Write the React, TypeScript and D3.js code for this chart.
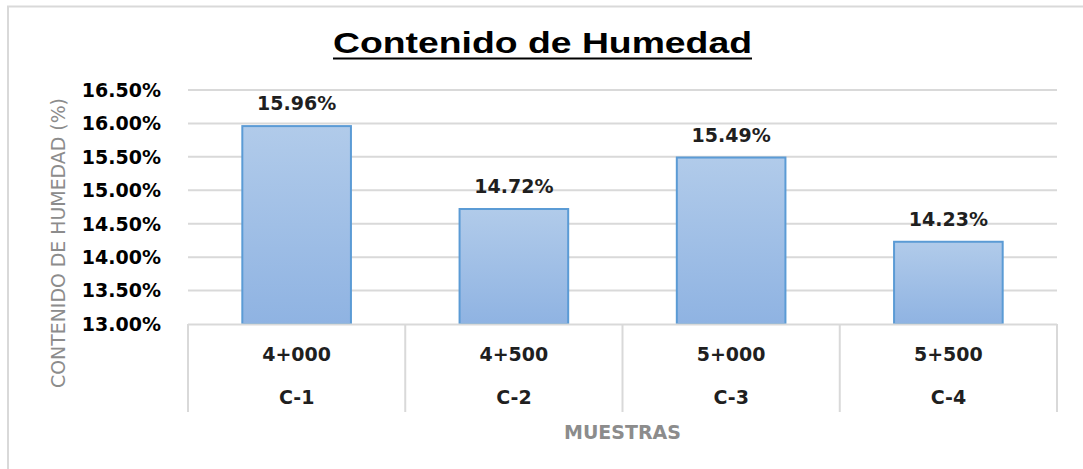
import * as d3 from "d3";

const categories = ["4+000", "4+500", "5+000", "5+500"];
const samples = ["C-1", "C-2", "C-3", "C-4"];
const moisture = [15.96, 14.72, 15.49, 14.23];
const yTicks = [13.0, 13.5, 14.0, 14.5, 15.0, 15.5, 16.0, 16.5];

const W = 1083;
const H = 469;

export default function App() {
  // plot area
  const left = 188;
  const right = 1057;
  const top = 90;
  const bottom = 324;

  const x = d3.scaleBand().domain(categories).range([left, right]).paddingInner(0.5).paddingOuter(0.25);
  const y = d3.scaleLinear().domain([13, 16.5]).range([bottom, top]);
  const step = x.step();
  const bounds = d3.range(categories.length + 1).map((i) => left + i * ((right - left) / categories.length));
  const fmt = (v: number) => v.toFixed(2) + "%";
  const font = "'DejaVu Sans', Verdana, sans-serif";
  const fs = 19;

  return (
    <svg width={W} height={H} style={{ position: "absolute", left: 0, top: 0, background: "#fff" }}>
      <defs>
        <linearGradient id="barFill" x1="0" y1="0" x2="0" y2="1">
          <stop offset="0%" stopColor="#b1cbea" />
          <stop offset="100%" stopColor="#8fb3e2" />
        </linearGradient>
      </defs>

      {/* chart border */}
      <rect x={8} y={6.5} width={W + 20} height={H + 20} fill="none" stroke="#d9d9d9" strokeWidth={2} />

      {/* title */}
      <text x={333} y={53} textLength={419} lengthAdjust="spacingAndGlyphs"
        fontFamily="'Liberation Sans', Arial, sans-serif" fontWeight="bold" fontSize={30} fill="#000">
        Contenido de Humedad
      </text>
      <line x1={333} x2={752} y1={58.5} y2={58.5} stroke="#000" strokeWidth={2.2} />

      {/* gridlines */}
      {yTicks.filter((t) => t > 13).map((t) => (
        <line key={t} x1={left} x2={right} y1={y(t)} y2={y(t)} stroke="#d9d9d9" strokeWidth={2} />
      ))}

      {/* y tick labels */}
      {yTicks.map((t) => (
        <text key={"l" + t} x={161} y={y(t)} dy="0.36em" textAnchor="end" fontFamily={font}
          fontWeight="bold" fontSize={fs} fill="#000">
          {fmt(t)}
        </text>
      ))}

      {/* bars */}
      {categories.map((c, i) => (
        <g key={c}>
          <rect x={x(c)} y={y(moisture[i])} width={x.bandwidth()} height={bottom - y(moisture[i])}
            fill="url(#barFill)" stroke="#5b9bd5" strokeWidth={2} />
          <text x={(x(c) as number) + x.bandwidth() / 2} y={y(moisture[i]) - 16} textAnchor="middle"
            fontFamily={font} fontWeight="bold" fontSize={fs} fill="#1f1f1f">
            {fmt(moisture[i])}
          </text>
        </g>
      ))}

      {/* category axis box */}
      <line x1={left} x2={right} y1={bottom + 0.5} y2={bottom + 0.5} stroke="#d9d9d9" strokeWidth={2} />
      {bounds.map((b, i) => (
        <line key={"d" + i} x1={b} x2={b} y1={bottom} y2={412} stroke="#d9d9d9" strokeWidth={2} />
      ))}
      {categories.map((c, i) => {
        const cx = (x(c) as number) + x.bandwidth() / 2;
        return (
          <g key={"c" + c}>
            <text x={cx} y={361} textAnchor="middle" fontFamily={font} fontWeight="bold" fontSize={fs} fill="#1f1f1f">
              {c}
            </text>
            <text x={cx} y={404} textAnchor="middle" fontFamily={font} fontWeight="bold" fontSize={fs} fill="#1f1f1f">
              {samples[i]}
            </text>
          </g>
        );
      })}

      {/* axis titles */}
      <text x={left + step * 2} y={439} textAnchor="middle" fontFamily={font} fontWeight="bold" fontSize={fs} fill="#8c8c8c">
        MUESTRAS
      </text>
      <text transform={`translate(65,243) rotate(-90)`} textAnchor="middle" fontFamily={font} fontSize={19}
        textLength={290} lengthAdjust="spacingAndGlyphs" fill="#8c8c8c">
        CONTENIDO DE HUMEDAD (%)
      </text>
    </svg>
  );
}
